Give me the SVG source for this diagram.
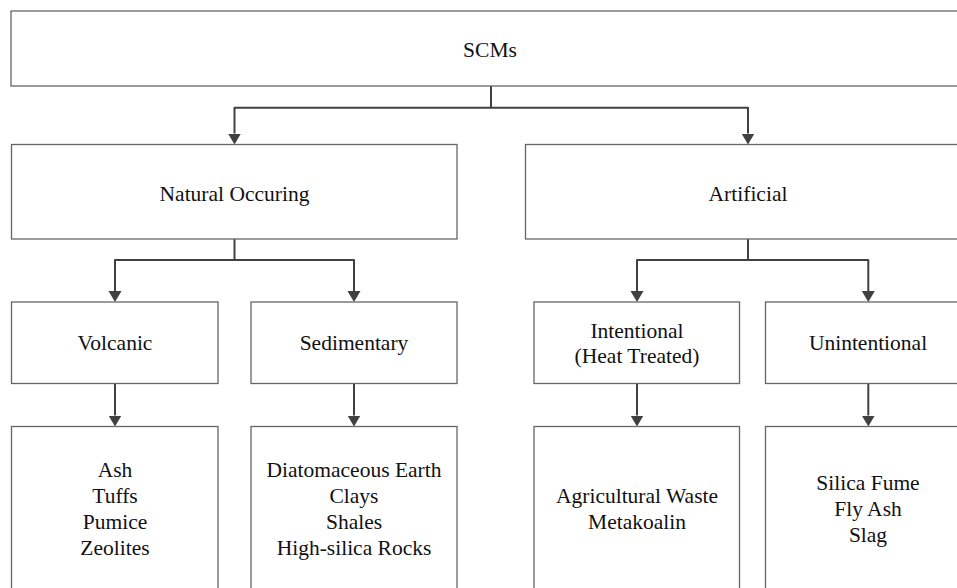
<svg xmlns="http://www.w3.org/2000/svg" width="957" height="588" viewBox="0 0 957 588">
  <style>
    .box { fill: #ffffff; stroke: #666666; stroke-width: 1.3; }
    .lbl { font-family: "Liberation Serif", "Times New Roman", serif; font-size: 21.5px; fill: #111111; text-anchor: middle; }
    .conn { fill: none; stroke: #404040; stroke-width: 2; }
  </style>
  <defs>
    <marker id="arrow" markerUnits="userSpaceOnUse" markerWidth="12" markerHeight="14" refX="0" refY="6.5" orient="auto">
      <path d="M0,0 L11,6.5 L0,13 z" fill="#404040"/>
    </marker>
  </defs>
  <rect width="957" height="588" fill="#ffffff"/>

  <!-- connectors -->
  <g id="connectors">
    <path class="conn" d="M491,86 V107.7"/>
    <path class="conn" d="M234.5,107.7 H748"/>
    <path class="conn" d="M234.5,107 V133.5" marker-end="url(#arrow)"/>
    <path class="conn" d="M748,107 V133.5" marker-end="url(#arrow)"/>

    <path class="conn" d="M234.5,239 V260"/>
    <path class="conn" d="M115,260 H354"/>
    <path class="conn" d="M115,259.3 V291" marker-end="url(#arrow)"/>
    <path class="conn" d="M354,259.3 V291" marker-end="url(#arrow)"/>

    <path class="conn" d="M748,239 V260"/>
    <path class="conn" d="M637,260 H868.3"/>
    <path class="conn" d="M637,259.3 V291" marker-end="url(#arrow)"/>
    <path class="conn" d="M868.3,259.3 V291" marker-end="url(#arrow)"/>

    <path class="conn" d="M115,383.5 V415.5" marker-end="url(#arrow)"/>
    <path class="conn" d="M354,383.5 V415.5" marker-end="url(#arrow)"/>
    <path class="conn" d="M637,383.5 V415.5" marker-end="url(#arrow)"/>
    <path class="conn" d="M868.3,383.5 V415.5" marker-end="url(#arrow)"/>
  </g>

  <!-- root -->
  <g id="scms">
    <rect class="box" x="11" y="11" width="958" height="75"/>
    <text class="lbl" x="490" y="56.5">SCMs</text>
  </g>

  <!-- second level -->
  <g id="natural">
    <rect class="box" x="11.5" y="144.5" width="445.5" height="94.5"/>
    <text class="lbl" x="234.5" y="200.5">Natural Occuring</text>
  </g>
  <g id="artificial">
    <rect class="box" x="525.5" y="144.5" width="445" height="94.5"/>
    <text class="lbl" x="748" y="200.5">Artificial</text>
  </g>

  <!-- third level -->
  <g id="volcanic">
    <rect class="box" x="11.5" y="302" width="206.5" height="81.5"/>
    <text class="lbl" x="115" y="350">Volcanic</text>
  </g>
  <g id="sedimentary">
    <rect class="box" x="251" y="302" width="206" height="81.5"/>
    <text class="lbl" x="354" y="350">Sedimentary</text>
  </g>
  <g id="intentional">
    <rect class="box" x="534" y="302" width="205.5" height="81.5"/>
    <text class="lbl" x="637" y="337.5">Intentional</text>
    <text class="lbl" x="637" y="363">(Heat Treated)</text>
  </g>
  <g id="unintentional">
    <rect class="box" x="765.5" y="302" width="205" height="81.5"/>
    <text class="lbl" x="868" y="350">Unintentional</text>
  </g>

  <!-- leaves -->
  <g id="volcanic-list">
    <rect class="box" x="11.5" y="426.5" width="206.5" height="200"/>
    <text class="lbl" x="115" y="476.5">Ash</text>
    <text class="lbl" x="115" y="502.5">Tuffs</text>
    <text class="lbl" x="115" y="528.5">Pumice</text>
    <text class="lbl" x="115" y="554.5">Zeolites</text>
  </g>
  <g id="sedimentary-list">
    <rect class="box" x="251" y="426.5" width="206" height="200"/>
    <text class="lbl" x="354" y="476.5">Diatomaceous Earth</text>
    <text class="lbl" x="354" y="502.5">Clays</text>
    <text class="lbl" x="354" y="528.5">Shales</text>
    <text class="lbl" x="354" y="554.5">High-silica Rocks</text>
  </g>
  <g id="intentional-list">
    <rect class="box" x="534" y="426.5" width="205.5" height="200"/>
    <text class="lbl" x="637" y="503.3">Agricultural Waste</text>
    <text class="lbl" x="637" y="529.3">Metakoalin</text>
  </g>
  <g id="unintentional-list">
    <rect class="box" x="765.5" y="426.5" width="205" height="200"/>
    <text class="lbl" x="868" y="490">Silica Fume</text>
    <text class="lbl" x="868" y="516">Fly Ash</text>
    <text class="lbl" x="868" y="542">Slag</text>
  </g>
</svg>
